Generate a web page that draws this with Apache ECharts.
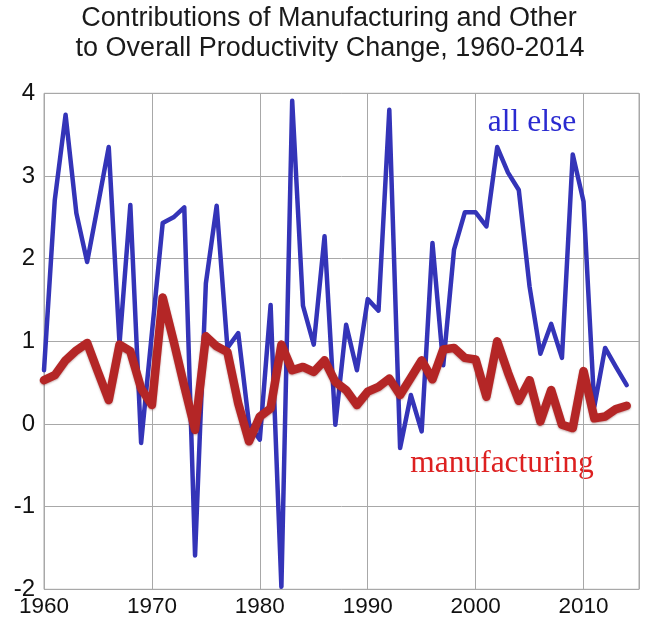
<!DOCTYPE html>
<html>
<head>
<meta charset="utf-8">
<script src="https://cdn.jsdelivr.net/npm/echarts@6/dist/echarts.min.js"></script>
<style>
html,body{margin:0;padding:0;background:#fff;}
#chart{width:646px;height:624px;}
</style>
</head>
<body>
<div id="chart"></div>
<script>
const years = [1960,1961,1962,1963,1964,1965,1966,1967,1968,1969,
  1970,1971,1972,1973,1974,1975,1976,1977,1978,1979,
  1980,1981,1982,1983,1984,1985,1986,1987,1988,1989,
  1990,1991,1992,1993,1994,1995,1996,1997,1998,1999,
  2000,2001,2002,2003,2004,2005,2006,2007,2008,2009,
  2010,2011,2012,2013,2014];

const allElse = [0.65,2.71,3.74,2.55,1.96,2.65,3.35,0.97,2.65,-0.23,
  1.10,2.43,2.50,2.62,-1.59,1.70,2.64,0.92,1.10,0.00,
  -0.19,1.44,-1.97,3.91,1.43,0.96,2.27,-0.01,1.20,0.65,
  1.51,1.37,3.80,-0.29,0.35,-0.09,2.19,0.71,2.11,2.56,
  2.56,2.39,3.35,3.04,2.83,1.66,0.85,1.21,0.80,3.26,
  2.69,0.21,0.92,0.69,0.47];

const manufacturing = [0.53,0.59,0.77,0.89,0.98,0.63,0.29,0.96,0.88,0.43,
  0.23,1.53,1.01,0.46,-0.07,1.06,0.94,0.87,0.25,-0.21,
  0.09,0.19,0.96,0.65,0.69,0.63,0.77,0.51,0.41,0.23,
  0.39,0.45,0.55,0.35,0.56,0.77,0.54,0.90,0.92,0.80,
  0.78,0.33,1.00,0.62,0.28,0.53,0.03,0.41,-0.01,-0.05,
  0.64,0.07,0.09,0.18,0.22];

const xTicks = [1960,1970,1980,1990,2000,2010];
const yTicks = [-2,-1,0,1,2,3,4];

const titleLines = ['Contributions of Manufacturing and Other',
                    'to Overall Productivity Change, 1960-2014'];

const chart = echarts.init(document.getElementById('chart'), null, {renderer:'canvas'});

const pair = (vals) => years.map((y,i) => [y, vals[i]]);

chart.setOption({
  animation: false,
  backgroundColor: '#ffffff',
  grid: {
    left: 44, right: 7, top: 93.3, bottom: 34.7,
    show: true, borderColor: '#a8a8a8', borderWidth: 1, backgroundColor: 'transparent'
  },
  xAxis: {
    type: 'value',
    min: xTicks[0], max: 2015.14, interval: 10,
    axisLine: {show: false},
    axisTick: {show: false},
    splitLine: {show: true, lineStyle: {color: '#a8a8a8', width: 1}},
    axisLabel: {
      show: true, showMaxLabel: false, margin: 6,
      fontFamily: 'Liberation Sans', fontSize: 22.5, color: '#111',
      formatter: v => (xTicks.indexOf(Math.round(v)) >= 0 && Math.abs(v - Math.round(v)) < 1e-6) ? String(Math.round(v)) : ''
    }
  },
  yAxis: {
    type: 'value',
    min: yTicks[0], max: yTicks[yTicks.length-1], interval: 1,
    axisLine: {show: false},
    axisTick: {show: false},
    splitLine: {show: true, lineStyle: {color: '#a8a8a8', width: 1}},
    axisLabel: {
      margin: 9, fontFamily: 'Liberation Sans', fontSize: 24, color: '#111'
    }
  },
  graphic: [
    {type: 'text', x: 329, y: 19, style: {text: titleLines[0], x: 0, y: 0,
      textAlign: 'center', textVerticalAlign: 'middle',
      font: '27px "Liberation Sans"', fill: '#1a1a1a'}},
    {type: 'text', x: 330, y: 49, style: {text: titleLines[1], x: 0, y: 0,
      textAlign: 'center', textVerticalAlign: 'middle',
      font: '27px "Liberation Sans"', fill: '#1a1a1a'}},
    {type: 'text', x: 532, y: 123, style: {text: 'all else', x: 0, y: 0,
      textAlign: 'center', textVerticalAlign: 'middle',
      font: '31.5px "Liberation Serif"', fill: '#2a2ad0'}},
    {type: 'text', x: 502, y: 464, style: {text: 'manufacturing', x: 0, y: 0,
      textAlign: 'center', textVerticalAlign: 'middle',
      font: '31.5px "Liberation Serif"', fill: '#dd2020'}}
  ],
  series: [
    {
      name: 'all else', type: 'line', data: pair(allElse),
      showSymbol: false, symbol: 'none', smooth: false,
      lineStyle: {color: '#3434b8', width: 4.5, cap: 'round', join: 'round'},
      z: 2
    },
    {
      name: 'manufacturing', type: 'line', data: pair(manufacturing),
      showSymbol: false, symbol: 'none', smooth: false,
      lineStyle: {color: '#b42626', width: 8.5, cap: 'round', join: 'round',
        shadowColor: 'rgba(90,0,0,0.35)', shadowBlur: 2, shadowOffsetY: 1},
      z: 3
    }
  ]
});
</script>
</body>
</html>
